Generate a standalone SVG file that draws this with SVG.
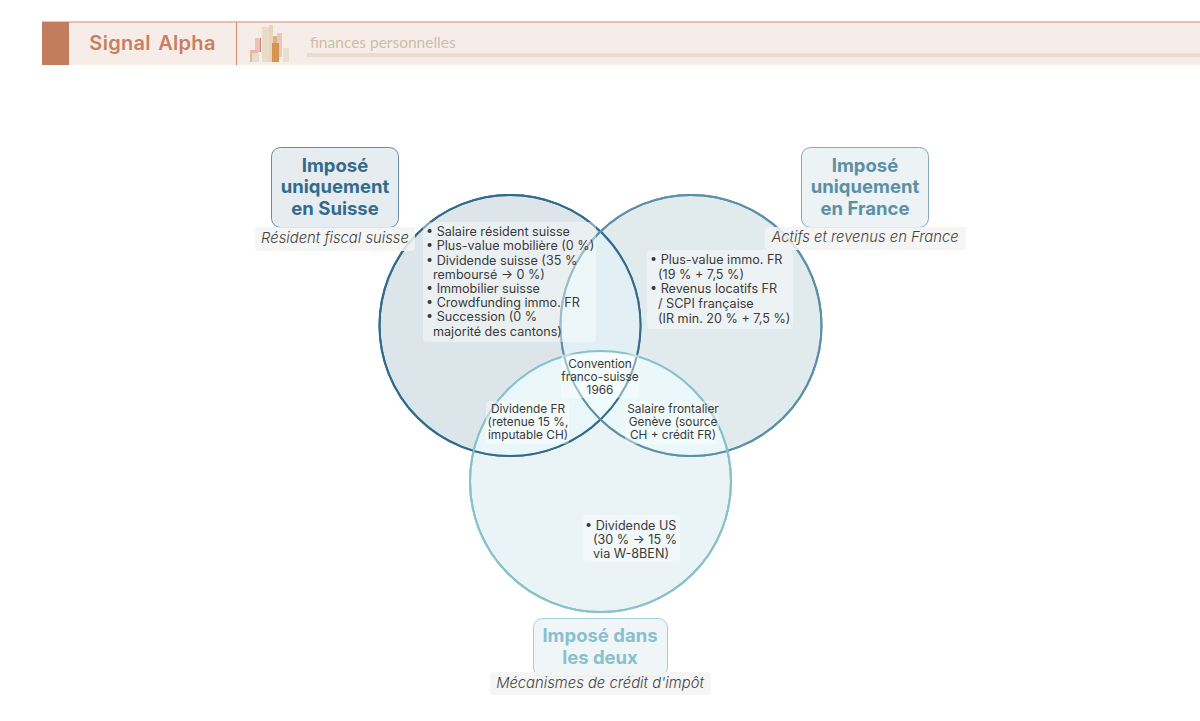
<svg xmlns="http://www.w3.org/2000/svg" width="1200" height="721" viewBox="0 0 1200 721">
<style>
text{font-family:Inter,"Liberation Sans",sans-serif}
.t{font-size:18.500px;font-weight:700;text-anchor:middle}
.i{font-size:14.800px;font-style:italic;font-weight:300;fill:#444;text-anchor:middle}
.b{font-size:12.600px;fill:#3a3a3a}
.m{font-size:11.850px;fill:#3a3a3a;text-anchor:middle}
.bg{fill:#fff;fill-opacity:.4}
.cap{fill:#f3f3f3;fill-opacity:.85}
</style>
<rect width="1200" height="721" fill="#fff"/>
<g id="header">
<rect x="42" y="22" width="1158" height="43" fill="#f7ede8"/>
<rect x="42" y="21.500" width="1158" height="1" fill="#cf8c72"/>
<rect x="42" y="22" width="27" height="43" fill="#c47c5e"/>
<rect x="236" y="22" width="1" height="43" fill="#cf8c72"/>
<text x="152.500" y="49.500" text-anchor="middle" style="font-size:20px;font-weight:600;letter-spacing:.3px" fill="#c77f60" word-spacing="2">Signal Alpha</text>
<text x="310" y="48" style="font-family:Lato,sans-serif;font-size:15.500px" fill="#cbbda8">finances personnelles</text>
<rect x="307" y="53" width="893" height="4" fill="#e9dccd"/>
<rect x="250" y="50" width="8" height="12" fill="#e6a583" fill-opacity=".8"/>
<rect x="255" y="38" width="6" height="14" fill="#e8b5ae" fill-opacity=".8"/>
<rect x="260" y="38" width="1" height="14" fill="#a86a6a" fill-opacity=".7"/>
<rect x="252" y="53" width="7" height="9" fill="#e2dfd2"/>
<rect x="262" y="27" width="7" height="35" fill="#e8dcc9"/>
<rect x="269" y="25" width="4" height="37" fill="#e8d5bb"/>
<rect x="277" y="33" width="5" height="24" fill="#e8b5ae" fill-opacity=".7"/>
<rect x="272" y="43" width="7" height="19" fill="#dd8f45"/>
<rect x="273" y="36" width="4" height="25" fill="#c99a60" fill-opacity=".7"/>
<rect x="283" y="48" width="6" height="14" fill="#e6e0d2"/>
</g>
<g id="connectors"></g>
<g id="circles">
<circle cx="510" cy="325.500" r="130.500" fill="#2f6a80" fill-opacity=".17" stroke="#336b8c" stroke-width="2"/>
<circle cx="691" cy="325.500" r="130.500" fill="#5b8a9c" fill-opacity=".18" stroke="#5b90a6" stroke-width="2"/>
<circle cx="600.500" cy="481.500" r="130.500" fill="#88c0cc" fill-opacity=".18" stroke="#88c0cc" stroke-width="2"/>
</g>
<g id="overlap-light">
<clipPath id="ab"><circle cx="510" cy="325.500" r="130.500"/></clipPath>
<clipPath id="c"><circle cx="600.500" cy="481.500" r="130.500"/></clipPath>
<circle cx="691" cy="325.500" r="130" fill="#eaf6fb" fill-opacity=".8" clip-path="url(#ab)"/>
<g clip-path="url(#c)">
<circle cx="510" cy="325.500" r="130" fill="#eefbfe" fill-opacity=".85"/>
<circle cx="691" cy="325.500" r="130" fill="#eefbfe" fill-opacity=".85"/>
</g>
<g fill="none">
<circle cx="510" cy="325.500" r="130.500" stroke="#336b8c" stroke-width="2"/>
<circle cx="691" cy="325.500" r="130.500" stroke="#5b90a6" stroke-width="2"/>
<circle cx="600.500" cy="481.500" r="130.500" stroke="#88c0cc" stroke-width="2"/>
</g>
</g>
<g id="node-suisse">
<rect x="271.500" y="147.500" width="127" height="80" rx="9" fill="#e7ecf0" stroke="#336b8c" stroke-opacity=".75"/>
<text class="t" fill="#336b8c"><tspan x="335" y="172">Imposé</tspan><tspan x="335" y="193">uniquement</tspan><tspan x="335" y="215">en Suisse</tspan></text>
<rect x="255" y="227" width="160" height="24" rx="4" class="cap"/>
<text class="i" x="335" y="243">Résident fiscal suisse</text>
<rect x="423" y="222" width="173" height="120" rx="4" class="bg"/>
<text class="b"><tspan x="426" y="236">• Salaire résident suisse</tspan><tspan x="426" y="250">• Plus-value mobilière (0 %)</tspan><tspan x="426" y="264.500">• Dividende suisse (35 %</tspan><tspan x="433" y="278.500">remboursé → 0 %)</tspan><tspan x="426" y="292.500">• Immobilier suisse</tspan><tspan x="426" y="307">• Crowdfunding immo. FR</tspan><tspan x="426" y="321">• Succession (0 %</tspan><tspan x="433" y="336">majorité des cantons)</tspan></text>
</g>
<g id="node-france">
<rect x="801.500" y="147.500" width="127" height="80" rx="9" fill="#edf2f5" stroke="#5b90a6" stroke-opacity=".75"/>
<text class="t" fill="#5b90a6"><tspan x="865" y="172">Imposé</tspan><tspan x="865" y="193">uniquement</tspan><tspan x="865" y="215">en France</tspan></text>
<rect x="765" y="227" width="201" height="23" rx="4" class="cap"/>
<text class="i" x="865" y="242">Actifs et revenus en France</text>
<rect x="647" y="250" width="146" height="79" rx="4" class="bg"/>
<text class="b"><tspan x="650" y="264">• Plus-value immo. FR</tspan><tspan x="658" y="279">(19 % + 7,5 %)</tspan><tspan x="650" y="293">• Revenus locatifs FR</tspan><tspan x="658" y="308">/ SCPI française</tspan><tspan x="658" y="323">(IR min. 20 % + 7,5 %)</tspan></text>
</g>
<g id="node-deux">
<rect x="533.500" y="618.500" width="134" height="58" rx="9" fill="#f0f6f8" stroke="#88c0cc" stroke-opacity=".75"/>
<text class="t" fill="#88c0cc"><tspan x="600" y="642">Imposé dans</tspan><tspan x="600" y="664">les deux</tspan></text>
<rect x="490" y="672" width="221" height="23" rx="4" class="cap"/>
<text class="i" x="600" y="688">Mécanismes de crédit d'impôt</text>
<rect x="583" y="515" width="97" height="47" rx="4" class="bg"/>
<text class="b"><tspan x="585" y="530">• Dividende US</tspan><tspan x="593" y="544">(30 % → 15 %</tspan><tspan x="593" y="558">via W-8BEN)</tspan></text>
</g>
<g id="node-convention">
<rect x="561" y="354" width="78" height="44" rx="4" class="bg"/>
<text class="m"><tspan x="600" y="368">Convention</tspan><tspan x="600" y="381">franco-suisse</tspan><tspan x="600" y="394">1966</tspan></text>
</g>
<g id="node-dividende-fr">
<rect x="486" y="401" width="83" height="43" rx="4" class="bg"/>
<text class="m"><tspan x="528" y="413">Dividende FR</tspan><tspan x="528" y="426">(retenue 15 %,</tspan><tspan x="528" y="439">imputable CH)</tspan></text>
</g>
<g id="node-frontalier">
<rect x="625" y="401" width="94" height="43" rx="4" class="bg"/>
<text class="m"><tspan x="673" y="413">Salaire frontalier</tspan><tspan x="673" y="426">Genève (source</tspan><tspan x="673" y="439">CH + crédit FR)</tspan></text>
</g>
</svg>
